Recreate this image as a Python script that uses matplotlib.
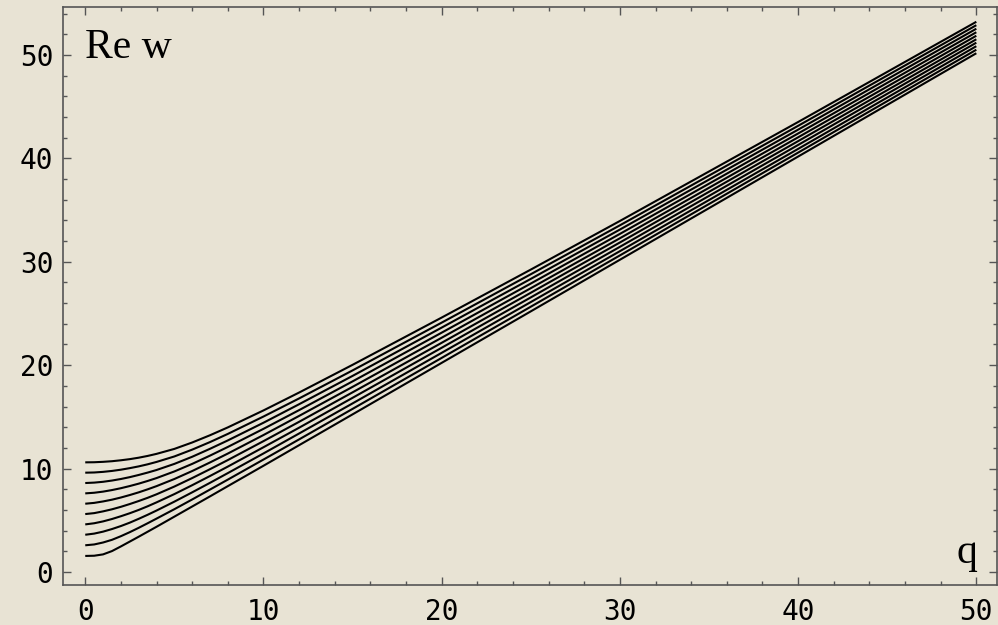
import matplotlib
matplotlib.use("Agg")
import matplotlib.pyplot as plt
from matplotlib.ticker import MultipleLocator

# momentum grid shared by all branches
q = [0, 0.5, 1, 1.5, 2, 2.5, 3, 3.5, 4, 5, 6, 7, 8, 10, 12, 15, 20, 25, 30, 40, 50]

# Re w for each branch, lowest first
re_w = [
    [1.55, 1.57, 1.70, 2.02, 2.47, 2.94, 3.41, 3.89, 4.37, 5.35, 6.33, 7.31, 8.30, 10.27, 12.26, 15.24, 20.22, 25.20, 30.19, 40.17, 50.16],
    [2.58, 2.66, 2.85, 3.11, 3.46, 3.85, 4.27, 4.71, 5.16, 6.07, 7.01, 7.97, 8.93, 10.87, 12.82, 15.77, 20.70, 25.65, 30.61, 40.55, 50.50],
    [3.60, 3.71, 3.90, 4.15, 4.44, 4.77, 5.14, 5.53, 5.94, 6.80, 7.70, 8.62, 9.56, 11.46, 13.39, 16.30, 21.19, 26.10, 31.02, 40.91, 50.84],
    [4.60, 4.71, 4.89, 5.12, 5.39, 5.68, 6.00, 6.35, 6.73, 7.53, 8.39, 9.28, 10.19, 12.06, 13.95, 16.84, 21.68, 26.55, 31.44, 41.29, 51.18],
    [5.60, 5.69, 5.86, 6.06, 6.30, 6.57, 6.86, 7.17, 7.51, 8.26, 9.08, 9.94, 10.82, 12.65, 14.52, 17.37, 22.16, 27.00, 31.86, 41.66, 51.51],
    [6.60, 6.68, 6.82, 6.99, 7.20, 7.44, 7.70, 7.99, 8.30, 8.99, 9.76, 10.59, 11.45, 13.24, 15.09, 17.90, 22.65, 27.44, 32.27, 42.03, 51.85],
    [7.60, 7.66, 7.77, 7.92, 8.10, 8.31, 8.54, 8.80, 9.08, 9.72, 10.45, 11.25, 12.09, 13.84, 15.65, 18.43, 23.14, 27.89, 32.69, 42.40, 52.19],
    [8.60, 8.64, 8.72, 8.84, 8.99, 9.17, 9.38, 9.61, 9.86, 10.45, 11.14, 11.91, 12.72, 14.43, 16.22, 18.96, 23.63, 28.34, 33.11, 42.77, 52.53],
    [9.60, 9.62, 9.68, 9.77, 9.89, 10.04, 10.21, 10.41, 10.64, 11.17, 11.83, 12.56, 13.35, 15.03, 16.78, 19.49, 24.11, 28.79, 33.52, 43.14, 52.87],
    [10.60, 10.61, 10.65, 10.71, 10.80, 10.91, 11.05, 11.22, 11.42, 11.90, 12.52, 13.22, 13.98, 15.62, 17.35, 20.03, 24.60, 29.24, 33.94, 43.51, 53.20],
]

x_ticks = [0, 10, 20, 30, 40, 50]
y_ticks = [0, 10, 20, 30, 40, 50]

paper = "#E8E3D4"
frame = "#555555"

fig = plt.figure(figsize=(9.98, 6.25), dpi=100, facecolor=paper)
ax = fig.add_axes([0.0631, 0.064, 0.9359, 0.9243])
ax.set_facecolor(paper)

for branch in re_w:
    ax.plot(q, branch, color="black", lw=1.5, solid_capstyle="butt")

ax.set_xlim(-1.25, 51.16)
ax.set_ylim(-1.26, 54.6)

ax.set_xticks(x_ticks)
ax.set_yticks(y_ticks)
ax.xaxis.set_minor_locator(MultipleLocator(2))
ax.yaxis.set_minor_locator(MultipleLocator(2))
ax.tick_params(which="both", direction="in", top=True, right=True, color=frame, width=1.0)
ax.tick_params(which="major", length=5.5)
ax.tick_params(which="minor", length=3.0)
ax.tick_params(axis="x", pad=9)
ax.tick_params(axis="y", pad=7)
for lbl in ax.get_xticklabels() + ax.get_yticklabels():
    lbl.set_fontfamily("DejaVu Sans Mono")
    lbl.set_fontsize(20)
for s in ax.spines.values():
    s.set_color(frame)
    s.set_linewidth(1.2)

ax.text(0.0, 49.7, "Re w", family="Liberation Serif", fontsize=30, ha="left", va="baseline")
ax.text(50.06, 0.87, "q", family="Liberation Serif", fontsize=30, ha="right", va="baseline")

fig.savefig("out.png", dpi=100, facecolor=paper)
